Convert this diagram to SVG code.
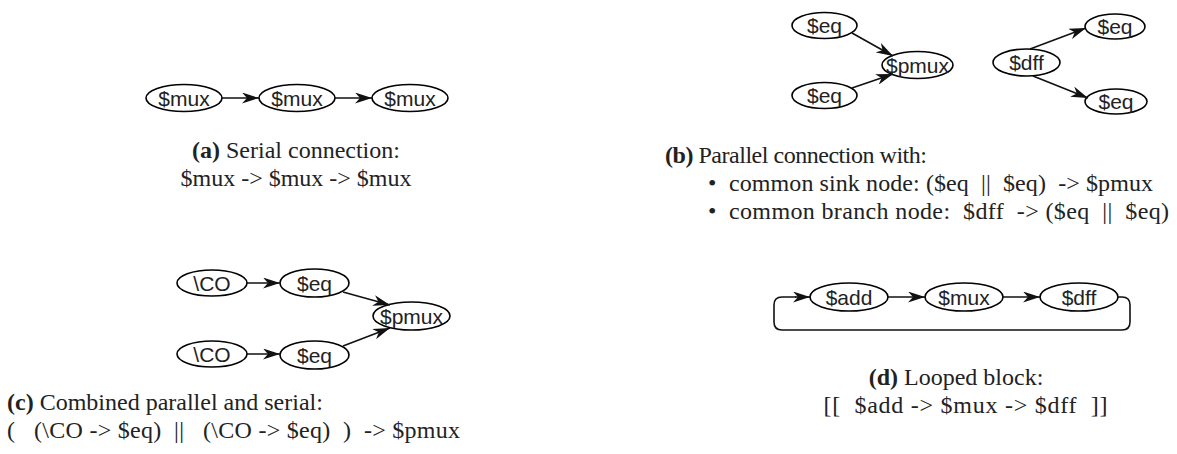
<svg xmlns="http://www.w3.org/2000/svg" width="1177" height="454" viewBox="0 0 1177 454">
  <style>
    .node ellipse { fill: #ffffff; stroke: #000000; stroke-width: 1.6; }
    .node text { font-family: "Liberation Sans", Arial, sans-serif; font-size: 21px; fill: #222222; text-anchor: middle; dominant-baseline: central; }
    .edge { fill: none; stroke: #111111; stroke-width: 1.6; marker-end: url(#arrow); }
    .loop { fill: none; stroke: #111111; stroke-width: 1.6; }
    .cap { font-family: "Liberation Serif", "Times New Roman", serif; font-size: 24px; fill: #222222; white-space: pre; }
    .cap .b { font-weight: bold; }
    .mid { text-anchor: middle; }
  </style>
  <defs>
    <marker id="arrow" viewBox="0 0 17 11" refX="17" refY="5.5" markerWidth="17" markerHeight="11" markerUnits="userSpaceOnUse" orient="auto">
      <path d="M0,0 L17,5.5 L0,11 L5,5.5 z" fill="#111111"/>
    </marker>
  </defs>

  <!-- (a) serial chain -->
  <g id="a-mux1" class="node"><ellipse cx="184" cy="98" rx="38" ry="13.5"/><text x="184" y="98">$mux</text></g>
  <g id="a-mux2" class="node"><ellipse cx="297" cy="98" rx="38" ry="13.5"/><text x="297" y="98">$mux</text></g>
  <g id="a-mux3" class="node"><ellipse cx="410" cy="98" rx="38" ry="13.5"/><text x="410" y="98">$mux</text></g>

  <!-- (b) parallel: common sink and common branch -->
  <g id="b-eq1" class="node"><ellipse cx="824.5" cy="25.5" rx="32.5" ry="13"/><text x="824.5" y="25.5">$eq</text></g>
  <g id="b-eq2" class="node"><ellipse cx="824.5" cy="95.5" rx="32.5" ry="13"/><text x="824.5" y="95.5">$eq</text></g>
  <g id="b-pmux" class="node"><ellipse cx="917.5" cy="65" rx="35.5" ry="13.5"/><text x="917.5" y="65">$pmux</text></g>
  <g id="b-dff" class="node"><ellipse cx="1026.5" cy="62.5" rx="33.5" ry="13.5"/><text x="1026.5" y="62.5">$dff</text></g>
  <g id="b-eq3" class="node"><ellipse cx="1115" cy="26.5" rx="30" ry="12.5"/><text x="1115" y="26.5">$eq</text></g>
  <g id="b-eq4" class="node"><ellipse cx="1116" cy="101.5" rx="31" ry="12.5"/><text x="1116" y="101.5">$eq</text></g>

  <!-- (c) combined parallel and serial -->
  <g id="c-co1" class="node"><ellipse cx="212" cy="283" rx="35" ry="13"/><text x="212" y="283">\CO</text></g>
  <g id="c-eq1" class="node"><ellipse cx="314.5" cy="283" rx="34.5" ry="14"/><text x="314.5" y="283">$eq</text></g>
  <g id="c-co2" class="node"><ellipse cx="212" cy="354" rx="35" ry="13"/><text x="212" y="354">\CO</text></g>
  <g id="c-eq2" class="node"><ellipse cx="314.5" cy="355" rx="34.5" ry="14"/><text x="314.5" y="355">$eq</text></g>
  <g id="c-pmux" class="node"><ellipse cx="411.5" cy="316" rx="38.5" ry="14"/><text x="411.5" y="316">$pmux</text></g>

  <!-- (d) looped block -->
  <g id="d-add" class="node"><ellipse cx="849" cy="297" rx="39" ry="14"/><text x="849" y="297">$add</text></g>
  <g id="d-mux" class="node"><ellipse cx="964" cy="297" rx="39" ry="14"/><text x="964" y="297">$mux</text></g>
  <g id="d-dff" class="node"><ellipse cx="1079" cy="297" rx="39" ry="14"/><text x="1079" y="297">$dff</text></g>

  <g id="connectors">
    <line class="edge" x1="222" y1="98" x2="259" y2="98"/>
    <line class="edge" x1="335" y1="98" x2="372" y2="98"/>

    <line class="edge" x1="852" y1="33" x2="893" y2="56"/>
    <line class="edge" x1="852" y1="88" x2="893" y2="74"/>
    <line class="edge" x1="1030" y1="49" x2="1086" y2="28"/>
    <line class="edge" x1="1033" y1="76" x2="1088" y2="98"/>

    <line class="edge" x1="247" y1="283" x2="280" y2="283"/>
    <line class="edge" x1="247" y1="354" x2="280" y2="354"/>
    <line class="edge" x1="343" y1="292" x2="390" y2="305"/>
    <line class="edge" x1="343" y1="346" x2="390" y2="328"/>

    <line class="edge" x1="888" y1="297" x2="925" y2="297"/>
    <line class="edge" x1="1003" y1="297" x2="1040" y2="297"/>
    <path class="loop" d="M1118,297 H1122 Q1130,297 1130,305 V322 Q1130,330 1122,330 H782 Q774,330 774,322 V305 Q774,297 782,297 H796"/>
    <line class="edge" x1="795" y1="297" x2="810" y2="297"/>
  </g>

  <!-- captions -->
  <text class="cap mid" x="296" y="158"><tspan class="b">(a)</tspan> Serial connection:</text>
  <text class="cap mid" x="296" y="186">$mux -&gt; $mux -&gt; $mux</text>

  <text class="cap" x="665" y="163" textLength="262" lengthAdjust="spacing"><tspan class="b">(b)</tspan> Parallel connection with:</text>
  <text class="cap" x="708" y="191">•</text>
  <text class="cap" x="729" y="191" textLength="424" lengthAdjust="spacing">common sink node: ($eq  ||  $eq)  -&gt; $pmux</text>
  <text class="cap" x="708" y="219">•</text>
  <text class="cap" x="729" y="219" textLength="440" lengthAdjust="spacing">common branch node:  $dff  -&gt; ($eq  ||  $eq)</text>

  <text class="cap" x="7" y="410"><tspan class="b">(c)</tspan> Combined parallel and serial:</text>
  <text class="cap" x="7" y="438" textLength="453" lengthAdjust="spacing">(   (\CO -&gt; $eq)  ||   (\CO -&gt; $eq)  )  -&gt; $pmux</text>

  <text class="cap mid" x="956" y="385"><tspan class="b">(d)</tspan> Looped block:</text>
  <text class="cap mid" x="965.5" y="413" textLength="284" lengthAdjust="spacing">[[  $add -&gt; $mux -&gt; $dff  ]]</text>
</svg>
